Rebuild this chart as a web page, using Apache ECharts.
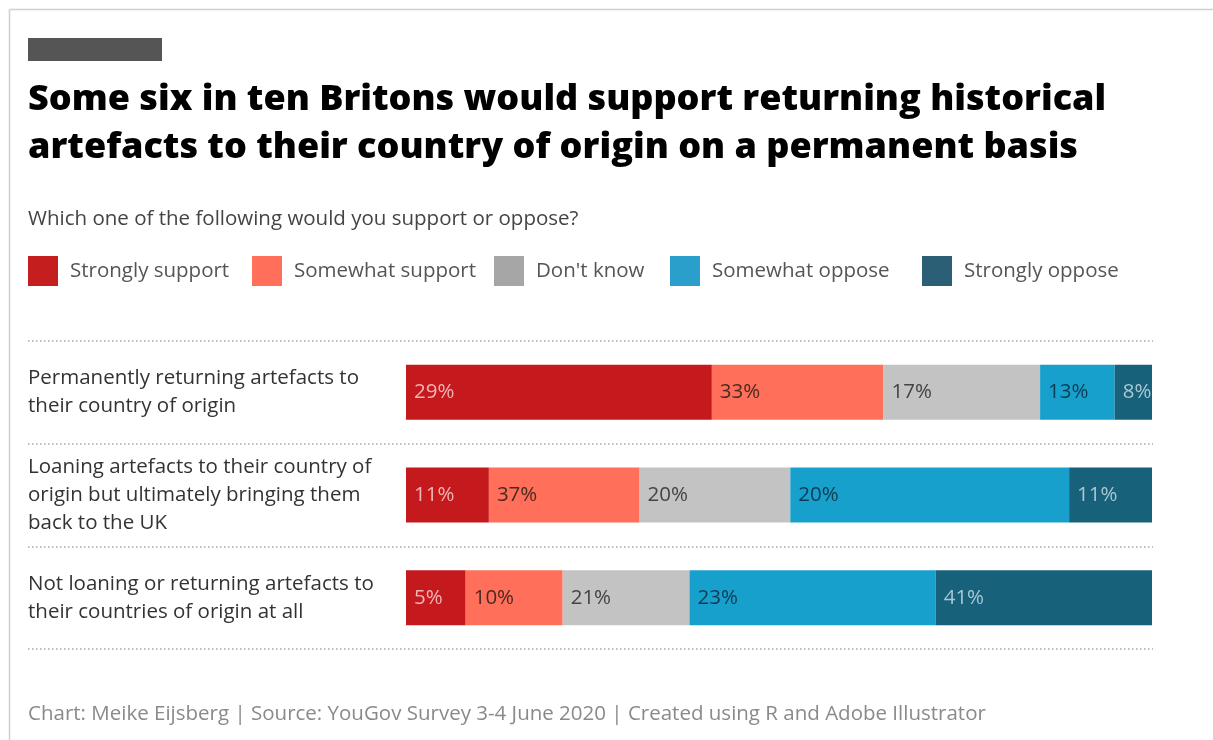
<!DOCTYPE html>
<html>
<head>
<meta charset="utf-8">
<script src="https://cdn.jsdelivr.net/npm/echarts@6/dist/echarts.min.js"></script>
<style>
html,body{margin:0;padding:0;background:#fff;}
#c{width:1213px;height:740px;}
</style>
</head>
<body>
<div id="c"></div>
<script>
// ---- data ----
var categories = [
  "Permanently returning artefacts to\ntheir country of origin",
  "Loaning artefacts to their country of\norigin but ultimately bringing them\nback to the UK",
  "Not loaning or returning artefacts to\ntheir countries of origin at all"
];
var seriesNames = ["Strongly support", "Somewhat support", "Don't know", "Somewhat oppose", "Strongly oppose"];
// segment widths as drawn in the reference (percent)
var stronglySupport = [41, 11, 8];
var somewhatSupport = [23, 20, 13];
var dontKnow        = [21, 20, 17];
var somewhatOppose  = [10, 37, 33];
var stronglyOppose  = [5, 11, 29];
// value labels as printed in the reference
var lblStronglySupport = [29, 11, 5];
var lblSomewhatSupport = [33, 37, 10];
var lblDontKnow        = [17, 20, 21];
var lblSomewhatOppose  = [13, 20, 23];
var lblStronglyOppose  = [8, 11, 41];

var widths = [stronglySupport, somewhatSupport, dontKnow, somewhatOppose, stronglyOppose];
var labels = [lblStronglySupport, lblSomewhatSupport, lblDontKnow, lblSomewhatOppose, lblStronglyOppose];

var barColors    = ["#c4191d", "#ff6f59", "#c3c3c3", "#18a0cd", "#17617b"];
var legendColors = ["#c41e1e", "#ff6f5a", "#a6a6a6", "#2b9fcb", "#2b5f75"];
var labelColors  = ["#f2b4b4", "#4a2a22", "#444444", "#0f3b52", "#a9c7d2"];
var legendLefts  = [28, 252, 494, 670, 922];

var FONT = "'Open Sans', 'Noto Sans', sans-serif";
var BODY = 20.5;

// row totals for normalising (fill to 100%)
var rowSums = categories.map(function (c, i) {
  return widths.reduce(function (s, arr) { return s + arr[i]; }, 0);
});

var series = widths.map(function (arr, k) {
  return {
    name: seriesNames[k],
    type: 'bar',
    stack: 'total',
    xAxisIndex: 0,
    yAxisIndex: 0,
    barWidth: 55,
    itemStyle: { color: barColors[k] },
    label: {
      show: true,
      position: 'insideLeft',
      distance: 8,
      fontFamily: FONT,
      fontSize: BODY,
      color: labelColors[k],
      formatter: function (p) { return labels[k][p.dataIndex] + '%'; }
    },
    emphasis: { disabled: true },
    data: arr.map(function (v, i) { return v / rowSums[i] * 100; })
  };
});

var legends = seriesNames.map(function (n, k) {
  return {
    left: legendLefts[k],
    top: 256,
    padding: 0,
    itemWidth: 30,
    itemHeight: 30,
    icon: 'rect',
    selectedMode: false,
    textStyle: { fontFamily: FONT, fontSize: BODY, color: '#555', padding: [2, 0, 0, 7] },
    data: [{ name: n, itemStyle: { color: legendColors[k] } }]
  };
});

var chart = echarts.init(document.getElementById('c'), null, { renderer: 'canvas' });
chart.setOption({
  backgroundColor: '#fff',
  animation: false,
  title: [
    {
      text: 'Some six in ten Britons would support returning historical\nartefacts to their country of origin on a permanent basis',
      left: 28, top: 76, padding: 0,
      textStyle: { fontFamily: FONT, fontSize: 36, fontWeight: 800, color: '#000', lineHeight: 48 }
    },
    {
      text: 'Which one of the following would you support or oppose?',
      left: 28, top: 206, padding: 0,
      textStyle: { fontFamily: FONT, fontSize: BODY, fontWeight: 'normal', color: '#444', lineHeight: 26 }
    },
    {
      text: 'Chart: Meike Eijsberg | Source: YouGov Survey 3-4 June 2020 | Created using R and Adobe Illustrator',
      left: 28, top: 701, padding: 0,
      textStyle: { fontFamily: FONT, fontSize: BODY, fontWeight: 'normal', color: '#8a8a8a', lineHeight: 26 }
    }
  ],
  legend: legends,
  grid: [
    { left: 406, right: 61, top: 341, bottom: 91 },
    { left: 28, right: 60, top: 341, bottom: 91 }
  ],
  xAxis: [
    { type: 'value', gridIndex: 0, min: 0, max: 100, show: false },
    { type: 'value', gridIndex: 1, min: 0, max: 1, show: false }
  ],
  yAxis: [
    {
      type: 'category', gridIndex: 0, inverse: true, data: categories,
      axisLine: { show: false }, axisTick: { show: false }, splitLine: { show: false },
      axisLabel: {
        align: 'left', margin: 378, fontFamily: FONT, fontSize: BODY, color: '#333', lineHeight: 28
      }
    },
    {
      type: 'category', gridIndex: 1, inverse: true, data: categories,
      axisLine: { show: false }, axisTick: { show: false }, axisLabel: { show: false },
      splitLine: { show: true, showMinLine: true, showMaxLine: true, lineStyle: { color: '#a8a8a8', width: 1.5, type: [1.5, 2.5] } }
    }
  ],
  graphic: [
    { type: 'line', shape: { x1: 9.5, y1: 9.5, x2: 1213, y2: 9.5 }, style: { stroke: '#d0d0d0', lineWidth: 1.5 } },
    { type: 'line', shape: { x1: 9.5, y1: 9.5, x2: 9.5, y2: 740 }, style: { stroke: '#d0d0d0', lineWidth: 1.5 } },
    { type: 'rect', shape: { x: 28, y: 38, width: 134, height: 23 }, style: { fill: '#555' } }
  ],
  series: series
});
</script>
</body>
</html>
